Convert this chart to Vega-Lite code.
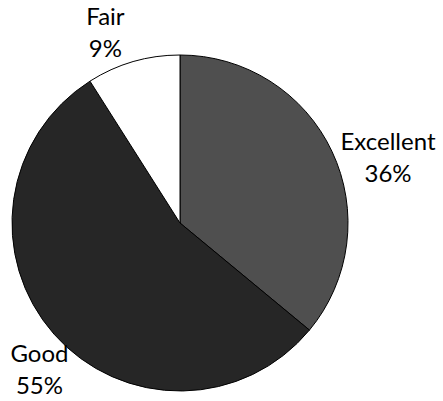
{
  "$schema": "https://vega.github.io/schema/vega-lite/v6.json",
  "autosize": "none",
  "width": 336,
  "height": 336,
  "padding": {"left": 12, "top": 55, "right": 95, "bottom": 10},
  "background": "white",
  "data": {
    "values": [
      {"rating": "Excellent", "value": 36, "rank": 1, "label": "Excellent\n36%"},
      {"rating": "Good", "value": 55, "rank": 2, "label": "Good\n55%"},
      {"rating": "Fair", "value": 9, "rank": 3, "label": "Fair\n9%"}
    ]
  },
  "encoding": {
    "theta": {"field": "value", "type": "quantitative", "stack": true},
    "order": {"field": "rank", "type": "quantitative"}
  },
  "layer": [
    {
      "mark": {"type": "arc", "outerRadius": 168, "stroke": "#000", "strokeWidth": 1},
      "encoding": {
        "color": {
          "field": "rating",
          "type": "nominal",
          "scale": {"domain": ["Excellent", "Good", "Fair"], "range": ["#4f4f4f", "#262626", "#ffffff"]},
          "legend": null
        }
      }
    },
    {
      "mark": {
        "type": "text", "radius": 210, "font": "Lato", "fontSize": 24, "lineBreak": "\n", "lineHeight": 32,
        "align": "center", "baseline": "middle", "color": "#000",
        "dx": {"expr": "datum.rating === 'Excellent' ? 18 : datum.rating === 'Good' ? 17 : -16"},
        "dy": {"expr": "datum.rating === 'Excellent' ? 9 : datum.rating === 'Good' ? -7 : -3"}
      },
      "encoding": {
        "text": {"field": "label", "type": "nominal"}
      }
    }
  ],
  "config": {"view": {"stroke": null}}
}
